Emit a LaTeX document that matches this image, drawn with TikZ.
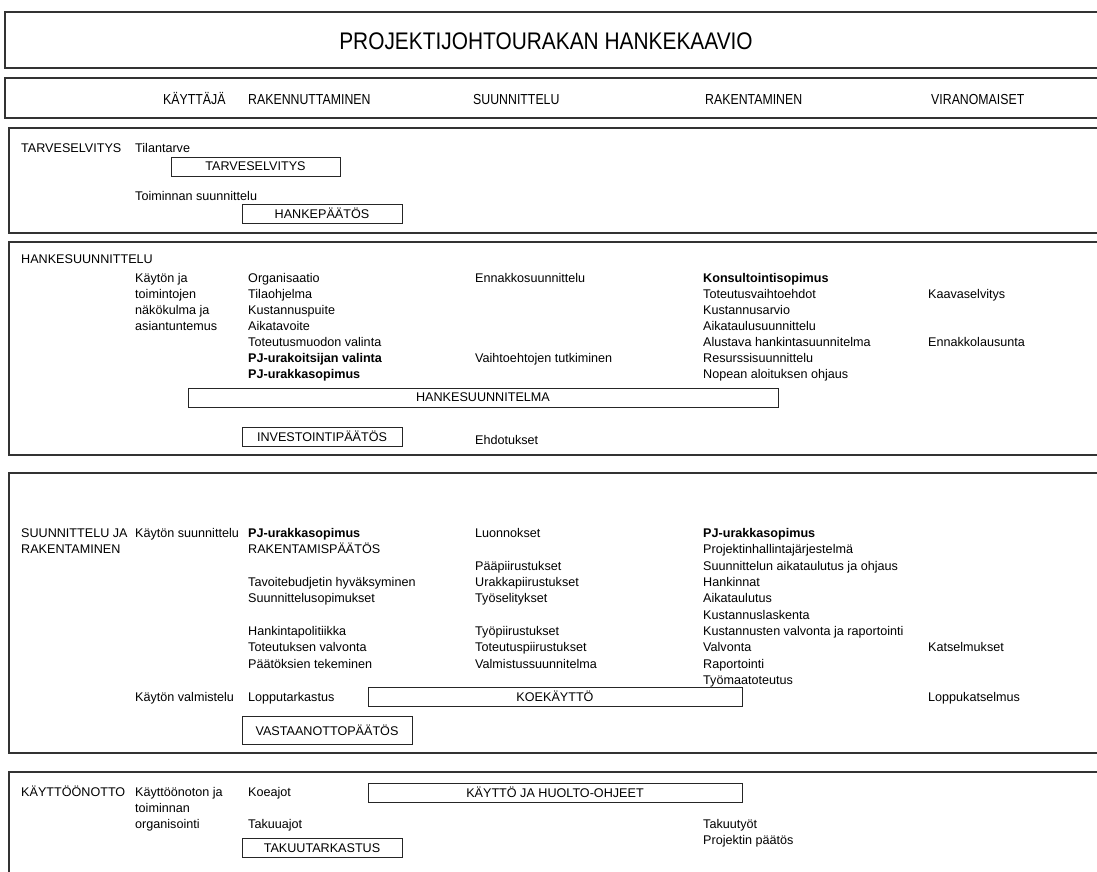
\documentclass[tikz,border=0pt]{standalone}
\usepackage{fontspec}
\setmainfont{Liberation Sans}
\newfontfamily\titlefont{Liberation Sans}[FakeStretch=0.87]
\newfontfamily\headfont{Liberation Sans}[FakeStretch=0.85]
\begin{document}
\begin{tikzpicture}[x=1pt,y=-1pt,
  frame/.style={draw=black!80, line width=1.4pt},
  txt/.style={anchor=base west, inner sep=0pt, font=\fontsize{12.6}{14}\selectfont},
  bld/.style={anchor=base west, inner sep=0pt, font=\fontsize{12.6}{14}\selectfont\bfseries},
  hdr/.style={anchor=base west, inner sep=0pt, font=\headfont\fontsize{14.5}{16}\selectfont},
  lbox/.style={draw=black!85, line width=0.9pt, inner sep=0pt, minimum height=19pt, font=\fontsize{12.6}{14}\selectfont}]
\useasboundingbox (0,0) rectangle (1097,872);
\fill[white] (0,0) rectangle (1097,872);
% frames
\draw[frame] (5,12) rectangle (1104,68);
\draw[frame] (5,78) rectangle (1104,118);
\draw[frame] (9,128) rectangle (1104,233);
\draw[frame] (9,242) rectangle (1104,455);
\draw[frame] (9,473) rectangle (1104,753);
\draw[frame] (9,772) rectangle (1104,880);
% title
\node[inner sep=0pt, font=\titlefont\fontsize{24}{28}\selectfont] (title) at (546,41) {PROJEKTIJOHTOURAKAN HANKEKAAVIO};
% headers
\node[hdr] (h1) at (163,105) {KÄYTTÄJÄ};
\node[hdr] (h2) at (248,105) {RAKENNUTTAMINEN};
\node[hdr] (h3) at (473,105) {SUUNNITTELU};
\node[hdr] (h4) at (705,105) {RAKENTAMINEN};
\node[hdr] (h5) at (931,105) {VIRANOMAISET};
% section 1
\node[txt] (s1) at (21,153) {TARVESELVITYS};
\node[txt] (s1a) at (135,153) {Tilantarve};
\node[lbox, minimum width=169pt] (b1) at (255.5,166.5) {TARVESELVITYS};
\node[txt] (s1b) at (135,200) {Toiminnan suunnittelu};
\node[lbox, minimum width=160pt] (b2) at (322,213.5) {HANKEPÄÄTÖS};
% section 2
\node[txt] (s2) at (21,263) {HANKESUUNNITTELU};
\node[txt] (k1) at (135,282) {Käytön ja};
\node[txt] (k2) at (135,298) {toimintojen};
\node[txt] (k3) at (135,314) {näkökulma ja};
\node[txt] (k4) at (135,330) {asiantuntemus};
\node[txt] (r1) at (248,282) {Organisaatio};
\node[txt] (r2) at (248,298) {Tilaohjelma};
\node[txt] (r3) at (248,314) {Kustannuspuite};
\node[txt] (r4) at (248,330) {Aikatavoite};
\node[txt] (r5) at (248,346) {Toteutusmuodon valinta};
\node[bld] (r6) at (248,362) {PJ-urakoitsijan valinta};
\node[bld] (r7) at (248,378) {PJ-urakkasopimus};
\node[txt] (u1) at (475,282) {Ennakkosuunnittelu};
\node[txt] (u2) at (475,362) {Vaihtoehtojen tutkiminen};
\node[bld] (t1) at (703,282) {Konsultointisopimus};
\node[txt] (t2) at (703,298) {Toteutusvaihtoehdot};
\node[txt] (t3) at (703,314) {Kustannusarvio};
\node[txt] (t4) at (703,330) {Aikataulusuunnittelu};
\node[txt] (t5) at (703,346) {Alustava hankintasuunnitelma};
\node[txt] (t6) at (703,362) {Resurssisuunnittelu};
\node[txt] (t7) at (703,378) {Nopean aloituksen ohjaus};
\node[txt] (v1) at (928,298) {Kaavaselvitys};
\node[txt] (v2) at (928,346) {Ennakkolausunta};
\node[lbox, minimum width=590pt] (b3) at (483,397.5) {HANKESUUNNITELMA};
\node[lbox, minimum width=160pt] (b4) at (322,436.5) {INVESTOINTIPÄÄTÖS};
\node[txt] (u3) at (475,444) {Ehdotukset};
% section 3
\node[txt] (s3a) at (21,537) {SUUNNITTELU JA};
\node[txt] (s3b) at (21,553) {RAKENTAMINEN};
\node[txt] (kk1) at (135,537) {Käytön suunnittelu};
\node[bld] (rr1) at (248,537) {PJ-urakkasopimus};
\node[txt] (rr2) at (248,553) {RAKENTAMISPÄÄTÖS};
\node[txt] (rr3) at (248,586) {Tavoitebudjetin hyväksyminen};
\node[txt] (rr4) at (248,602) {Suunnittelusopimukset};
\node[txt] (rr5) at (248,635) {Hankintapolitiikka};
\node[txt] (rr6) at (248,651) {Toteutuksen valvonta};
\node[txt] (rr7) at (248,668) {Päätöksien tekeminen};
\node[txt] (uu1) at (475,537) {Luonnokset};
\node[txt] (uu2) at (475,570) {Pääpiirustukset};
\node[txt] (uu3) at (475,586) {Urakkapiirustukset};
\node[txt] (uu4) at (475,602) {Työselitykset};
\node[txt] (uu5) at (475,635) {Työpiirustukset};
\node[txt] (uu6) at (475,651) {Toteutuspiirustukset};
\node[txt] (uu7) at (475,668) {Valmistussuunnitelma};
\node[bld] (tt1) at (703,537) {PJ-urakkasopimus};
\node[txt] (tt2) at (703,553) {Projektinhallintajärjestelmä};
\node[txt] (tt3) at (703,570) {Suunnittelun aikataulutus ja ohjaus};
\node[txt] (tt4) at (703,586) {Hankinnat};
\node[txt] (tt5) at (703,602) {Aikataulutus};
\node[txt] (tt6) at (703,619) {Kustannuslaskenta};
\node[txt] (tt7) at (703,635) {Kustannusten valvonta ja raportointi};
\node[txt] (tt8) at (703,651) {Valvonta};
\node[txt] (tt9) at (703,668) {Raportointi};
\node[txt] (tt10) at (703,684) {Työmaatoteutus};
\node[txt] (vv1) at (928,651) {Katselmukset};
\node[txt] (vv2) at (928,701) {Loppukatselmus};
\node[txt] (kk2) at (135,701) {Käytön valmistelu};
\node[txt] (rr8) at (248,701) {Lopputarkastus};
\node[lbox, minimum width=374pt] (b5) at (555,696.5) {KOEKÄYTTÖ};
\node[lbox, minimum width=170pt, minimum height=28pt] (b6) at (327,730) {VASTAANOTTOPÄÄTÖS};
% section 4
\node[txt] (s4) at (21,796) {KÄYTTÖÖNOTTO};
\node[txt] (kx1) at (135,796) {Käyttöönoton ja};
\node[txt] (kx2) at (135,812) {toiminnan};
\node[txt] (kx3) at (135,828) {organisointi};
\node[txt] (rx1) at (248,796) {Koeajot};
\node[txt] (rx2) at (248,828) {Takuuajot};
\node[lbox, minimum width=374pt] (b7) at (555,792.5) {KÄYTTÖ JA HUOLTO-OHJEET};
\node[lbox, minimum width=160pt] (b8) at (322,848) {TAKUUTARKASTUS};
\node[txt] (tx1) at (703,828) {Takuutyöt};
\node[txt] (tx2) at (703,844) {Projektin päätös};
\end{tikzpicture}
\end{document}
